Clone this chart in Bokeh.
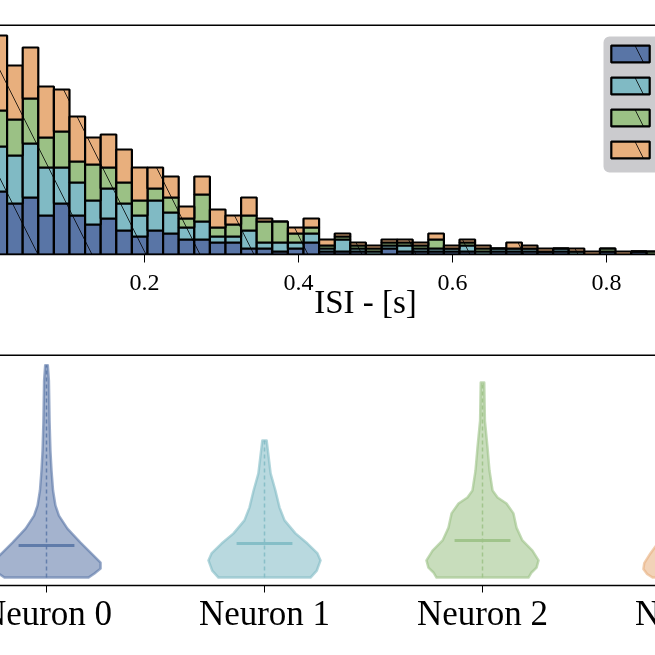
import numpy as np
from bokeh.plotting import figure
from bokeh.layouts import column
from bokeh.models import Range1d, FixedTicker, Span, Legend, LegendItem, BoxAnnotation
from bokeh.embed import file_html
from bokeh.resources import INLINE

FONT = "Liberation Serif"

neurons = ["Neuron 0", "Neuron 1", "Neuron 2", "Neuron 3"]
colors = ["#5975a6", "#80bac4", "#9bc185", "#e8af7d"]

# histogram bins (ISI in seconds)
bin_start = 0.0013
bin_width = 0.02026

# stacked histogram counts per neuron (one value per bin)
counts_neuron0 = [21, 17, 19, 13, 17, 13, 10, 12, 8, 6, 8, 7, 5, 5, 4, 4, 2, 2, 1, 2,
                  4, 1, 1, 1, 0, 2, 1, 1, 1, 1, 1, 0, 1, 1, 1, 1, 1, 0, 0, 1, 0, 1, 0]
counts_neuron1 = [15, 16, 18, 16, 12, 11, 8, 10, 9, 7, 10, 7, 4, 6, 2, 2, 6, 2, 3, 2,
                  3, 1, 4, 1, 1, 1, 2, 1, 1, 1, 2, 1, 1, 1, 1, 0, 1, 1, 0, 0, 0, 0, 0]
counts_neuron2 = [12, 12, 15, 10, 12, 7, 12, 7, 7, 5, 4, 5, 3, 9, 3, 4, 5, 7, 7, 3,
                  2, 1, 1, 1, 1, 1, 1, 1, 3, 0, 1, 1, 0, 0, 0, 0, 0, 0, 0, 1, 0, 0, 1]
counts_neuron3 = [25, 18, 17, 17, 14, 15, 9, 11, 11, 11, 7, 7, 4, 6, 6, 3, 6, 1, 0, 2,
                  3, 2, 1, 1, 1, 1, 1, 1, 2, 1, 1, 1, 0, 2, 1, 1, 0, 1, 1, 0, 1, 0, 0]

hist_ticks = [0.0, 0.2, 0.4, 0.6, 0.8]

# violin profiles: ISI levels (s) and half-widths (category units)
violin_levels_0 = [0.0, 0.017, 0.037, 0.062, 0.091, 0.145, 0.203, 0.257, 0.299, 0.361, 0.444, 0.527, 0.651, 0.817, 0.880]
violin_width_0 = [0.193, 0.220, 0.248, 0.248, 0.216, 0.156, 0.096, 0.057, 0.041, 0.030, 0.023, 0.018, 0.014, 0.011, 0.006]
violin_levels_1 = [0.0, 0.029, 0.071, 0.100, 0.141, 0.183, 0.237, 0.290, 0.361, 0.432, 0.568]
violin_width_1 = [0.211, 0.240, 0.257, 0.243, 0.197, 0.142, 0.092, 0.069, 0.050, 0.028, 0.010]
violin_levels_2 = [0.0, 0.021, 0.041, 0.071, 0.112, 0.154, 0.207, 0.266, 0.307, 0.332, 0.361, 0.444, 0.539, 0.651, 0.809]
violin_width_2 = [0.211, 0.225, 0.248, 0.257, 0.229, 0.183, 0.156, 0.142, 0.110, 0.069, 0.046, 0.032, 0.023, 0.011, 0.008]
violin_levels_3 = [0.0, 0.015, 0.035, 0.060, 0.100, 0.150, 0.200, 0.250, 0.300, 0.400, 0.500, 0.600, 0.650]
violin_width_3 = [0.220, 0.245, 0.262, 0.258, 0.230, 0.190, 0.130, 0.080, 0.050, 0.030, 0.022, 0.015, 0.008]
violin_medians = [0.133, 0.141, 0.154, 0.140]

all_counts = [counts_neuron0, counts_neuron1, counts_neuron2, counts_neuron3]
all_levels = [violin_levels_0, violin_levels_1, violin_levels_2, violin_levels_3]
all_widths = [violin_width_0, violin_width_1, violin_width_2, violin_width_3]

W = 856  # full figure width; the page window shows a crop of it

# ---------------- top: stacked histogram ----------------
p1 = figure(width=W, height=340, output_backend="svg", toolbar_location=None,
            x_range=Range1d(-0.06883, 1.04286), y_range=Range1d(0, 76.67),
            y_axis_location=None, min_border_left=0, min_border_right=0,
            min_border_top=24, min_border_bottom=86)
p1.outline_line_color = None
p1.grid.visible = False
p1.background_fill_color = "white"
p1.border_fill_color = "white"

n_bins = len(counts_neuron0)
left = bin_start + bin_width * np.arange(n_bins)
right = left + bin_width
bottom = np.zeros(n_bins)
renderers = []
for cnt, col in zip(all_counts, colors):
    top = bottom + np.array(cnt, dtype=float)
    r = p1.quad(left=left, right=right, bottom=bottom, top=top,
                fill_color=col, line_color="black", line_width=2.2,
                hatch_pattern="\\", hatch_color="black", hatch_scale=108,
                hatch_weight=0.8)
    renderers.append(r)
    bottom = top

# legend frame (light grey, rounded)
p1.add_layout(BoxAnnotation(left=0.7961, right=1.02, bottom=27.33, top=72.67,
                            fill_color="#cbcbce", fill_alpha=1.0, line_color=None,
                            border_radius=6))

legend = Legend(items=[LegendItem(label=n, renderers=[r]) for n, r in zip(neurons, renderers)],
                location=(669, 94), orientation="vertical",
                glyph_width=48, glyph_height=21, label_height=21, spacing=11,
                label_standoff=18, padding=0, margin=0, label_text_font=FONT,
                label_text_font_size="14px",
                background_fill_alpha=0.0, border_line_color=None)
p1.add_layout(legend)

ax1 = p1.xaxis[0]
ax1.ticker = FixedTicker(ticks=hist_ticks)
ax1.axis_label = "ISI - [s]"
ax1.axis_label_text_font = FONT
ax1.axis_label_text_font_size = "33px"
ax1.axis_label_text_font_style = "normal"
ax1.axis_label_text_color = "black"
ax1.axis_label_standoff = -9
ax1.major_label_text_font = FONT
ax1.major_label_text_font_size = "24px"
ax1.major_label_text_color = "black"
ax1.major_label_standoff = 12
ax1.major_tick_out = 8
ax1.major_tick_in = 0
ax1.major_tick_line_color = "black"
ax1.minor_tick_line_color = None
ax1.axis_line_color = "black"
ax1.axis_line_width = 1.5

p1.add_layout(Span(location=76.67, dimension="width", line_color="black", line_width=3))

# ---------------- bottom: violins ----------------
p2 = figure(width=W, height=315, output_backend="svg", toolbar_location=None,
            x_range=Range1d(-0.5, 3.4266), y_range=Range1d(-0.033, 0.925),
            y_axis_location=None, min_border_left=0, min_border_right=0,
            min_border_top=14, min_border_bottom=70)
p2.outline_line_color = None
p2.grid.visible = False

for i, (lev, hw, col, med) in enumerate(zip(all_levels, all_widths, colors, violin_medians)):
    lev = np.array(lev)
    hw = np.array(hw)
    xs = list(i - hw) + list((i + hw)[::-1])
    ys = list(lev) + list(lev[::-1])
    p2.patch(xs, ys, fill_color=col, fill_alpha=0.55, line_color=col, line_alpha=0.6,
             line_width=2.5, line_join="round")
    p2.segment(x0=[i], y0=[lev.min()], x1=[i], y1=[lev.max()], line_color=col,
               line_alpha=0.85, line_width=1.5, line_dash="4 3")
    p2.segment(x0=[i - 0.128], y0=[med], x1=[i + 0.128], y1=[med], line_color=col,
               line_alpha=0.9, line_width=3)

ax2 = p2.xaxis[0]
ax2.ticker = FixedTicker(ticks=[0, 1, 2, 3])
ax2.major_label_overrides = {0: neurons[0], 1: neurons[1], 2: neurons[2], 3: neurons[3]}
ax2.major_label_text_font = FONT
ax2.major_label_text_font_size = "35px"
ax2.major_label_text_color = "black"
ax2.major_label_standoff = 1
ax2.major_tick_out = 7
ax2.major_tick_in = 0
ax2.minor_tick_line_color = None
ax2.axis_line_color = "black"
ax2.axis_line_width = 1.5

p2.add_layout(Span(location=0.925, dimension="width", line_color="black", line_width=3))

layout = column(p1, p2, spacing=0,
                styles={"position": "fixed", "left": "-63px", "top": "0px"})
open("out.html", "w").write(file_html(layout, INLINE))
